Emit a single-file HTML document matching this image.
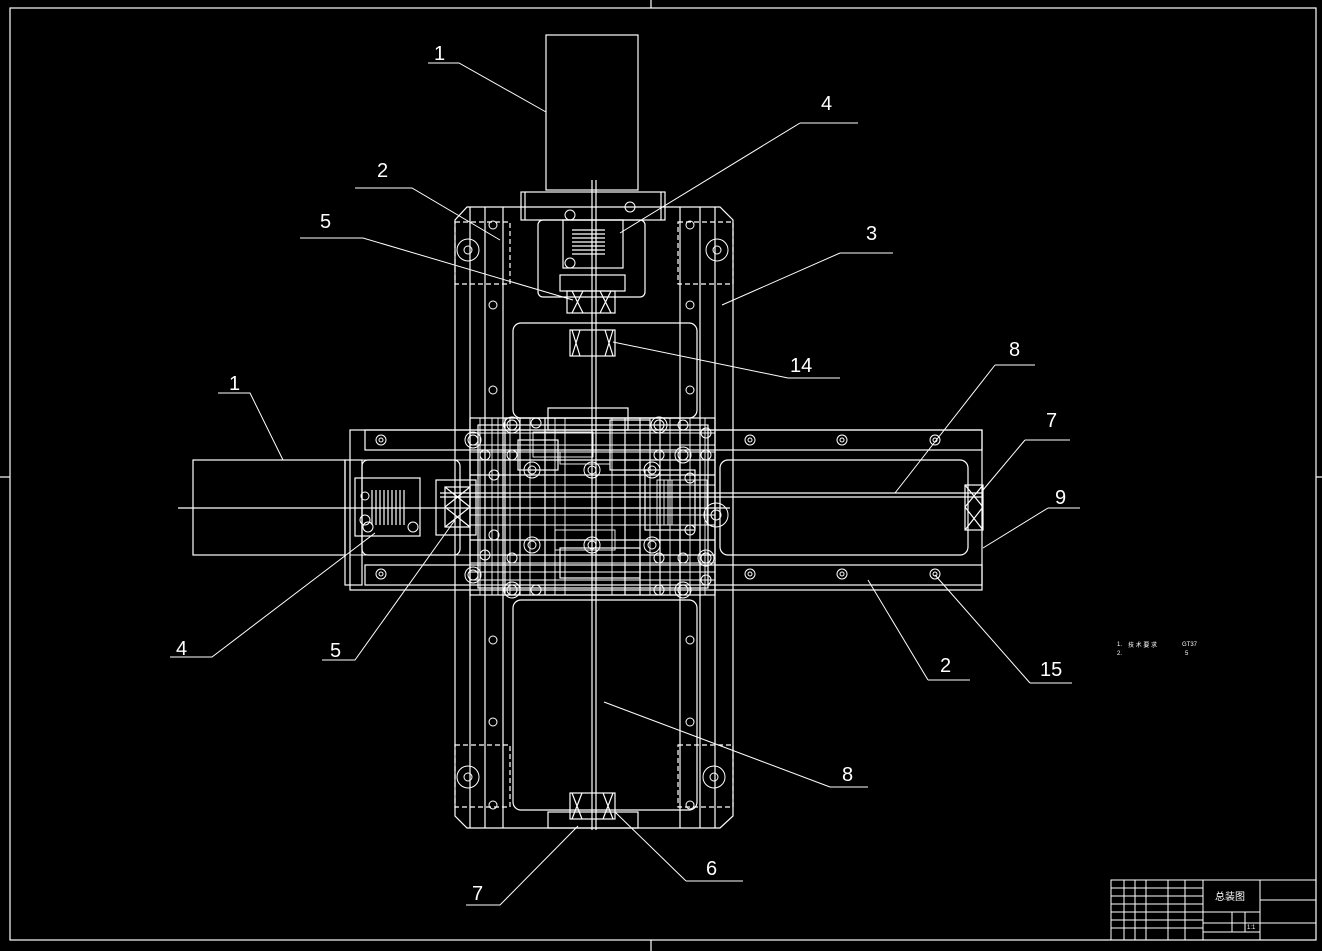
<!DOCTYPE html>
<html><head><meta charset="utf-8"><style>
html,body{margin:0;padding:0;background:#000;}
svg{display:block}
text{font-family:"Liberation Sans",sans-serif;fill:#fff;}
</style></head><body>
<svg width="1322" height="951" viewBox="0 0 1322 951" xmlns="http://www.w3.org/2000/svg">
<rect width="1322" height="951" fill="#000"/>
<g stroke="#fff" stroke-width="1.2" fill="none">
<rect x="10" y="8" width="1306" height="932"/>
<line x1="651" y1="0" x2="651" y2="8"/><line x1="651" y1="940" x2="651" y2="951"/>
<line x1="0" y1="477" x2="10" y2="477"/><line x1="1316" y1="477" x2="1322" y2="477"/>

<rect x="546" y="35" width="92" height="155"/>
<rect x="521" y="192" width="144" height="28"/>
<line x1="525" y1="192" x2="525" y2="220"/><line x1="661" y1="192" x2="661" y2="220"/>
<line x1="592" y1="180" x2="592" y2="830"/><line x1="596" y1="180" x2="596" y2="830"/>
<rect x="538" y="220" width="107" height="77" rx="5"/>
<rect x="563" y="220" width="60" height="48"/>
<rect x="560" y="275" width="65" height="16"/>
<line x1="572" y1="230" x2="605" y2="230"/><line x1="572" y1="234" x2="605" y2="234"/><line x1="572" y1="238" x2="605" y2="238"/><line x1="572" y1="242" x2="605" y2="242"/><line x1="572" y1="246" x2="605" y2="246"/><line x1="572" y1="250" x2="605" y2="250"/><line x1="572" y1="254" x2="605" y2="254"/>
<rect x="567" y="291" width="48" height="22"/>
<path d="M572 291 L583 313 M583 291 L572 313 M600 291 L611 313 M611 291 L600 313"/>

<path d="M467 207 L720 207 L733 220 L733 816 L720 828 L467 828 L455 816 L455 220 Z"/>
<line x1="485" y1="207" x2="485" y2="828"/><line x1="503" y1="207" x2="503" y2="828"/>
<line x1="680" y1="207" x2="680" y2="828"/><line x1="700" y1="207" x2="700" y2="828"/>
<line x1="715" y1="207" x2="715" y2="828"/><line x1="470" y1="207" x2="470" y2="828"/>
<rect x="455" y="222" width="55" height="62" stroke-dasharray="5,3"/>
<rect x="678" y="222" width="55" height="62" stroke-dasharray="5,3"/>
<rect x="455" y="745" width="55" height="62" stroke-dasharray="5,3"/>
<rect x="678" y="745" width="55" height="62" stroke-dasharray="5,3"/>
<rect x="513" y="323" width="184" height="95" rx="8"/>
<rect x="513" y="600" width="184" height="210" rx="8"/>
<rect x="570" y="330" width="45" height="26"/>
<path d="M572 330 L580 356 M580 330 L572 356 M605 330 L613 356 M613 330 L605 356"/>
<rect x="570" y="793" width="45" height="26"/>
<rect x="548" y="812" width="90" height="16"/>
<path d="M572 793 L582 819 M582 793 L572 819 M603 793 L613 819 M613 793 L603 819"/>

<rect x="350" y="430" width="632" height="160"/>
<rect x="365" y="430" width="617" height="20"/>
<rect x="365" y="565" width="617" height="20"/>
<rect x="720" y="460" width="248" height="95" rx="8"/>
<line x1="440" y1="493" x2="982" y2="493"/><line x1="440" y1="497" x2="982" y2="497"/>
<line x1="178" y1="508" x2="730" y2="508"/>
<rect x="965" y="485" width="18" height="45"/>
<path d="M965 485 L983 507 M983 485 L965 507 M965 507 L983 530 M983 507 L965 530"/>

<rect x="193" y="460" width="152" height="95"/>
<rect x="345" y="460" width="17" height="125"/>
<rect x="355" y="478" width="65" height="58"/>
<rect x="362" y="460" width="98" height="95" rx="6"/>
<line x1="372" y1="490" x2="372" y2="525"/><line x1="376" y1="490" x2="376" y2="525"/><line x1="380" y1="490" x2="380" y2="525"/><line x1="384" y1="490" x2="384" y2="525"/><line x1="388" y1="490" x2="388" y2="525"/><line x1="392" y1="490" x2="392" y2="525"/><line x1="396" y1="490" x2="396" y2="525"/><line x1="400" y1="490" x2="400" y2="525"/><line x1="404" y1="490" x2="404" y2="525"/>
<rect x="445" y="487" width="25" height="40"/>
<path d="M445 487 L470 507 M470 487 L445 507 M445 507 L470 527 M470 507 L445 527"/>
<rect x="436" y="480" width="40" height="55"/>

<rect x="470" y="418" width="245" height="177"/>
<rect x="478" y="425" width="230" height="163"/>
<rect x="505" y="418" width="175" height="177"/>
<rect x="548" y="408" width="80" height="22"/>
<rect x="560" y="548" width="80" height="30"/>
<line x1="470" y1="460" x2="715" y2="460"/><line x1="470" y1="555" x2="715" y2="555"/>
<line x1="470" y1="475" x2="715" y2="475"/><line x1="470" y1="540" x2="715" y2="540"/>
<line x1="520" y1="418" x2="520" y2="595"/><line x1="545" y1="418" x2="545" y2="595"/>
<line x1="625" y1="418" x2="625" y2="595"/><line x1="640" y1="418" x2="640" y2="595"/>
<line x1="660" y1="418" x2="660" y2="595"/>
<rect x="610" y="420" width="40" height="50"/><rect x="518" y="440" width="40" height="30"/>
<rect x="645" y="470" width="50" height="60"/>
</g>
<!-- extra density in carriage -->
<g stroke="#fff" stroke-width="0.9" fill="none">
<line x1="480" y1="418" x2="480" y2="595"/><line x1="492" y1="418" x2="492" y2="595"/><line x1="498" y1="418" x2="498" y2="595"/>
<line x1="510" y1="418" x2="510" y2="595"/><line x1="530" y1="418" x2="530" y2="595"/><line x1="555" y1="418" x2="555" y2="595"/>
<line x1="565" y1="418" x2="565" y2="595"/><line x1="612" y1="418" x2="612" y2="595"/><line x1="650" y1="418" x2="650" y2="595"/>
<line x1="670" y1="418" x2="670" y2="595"/><line x1="690" y1="418" x2="690" y2="595"/><line x1="705" y1="418" x2="705" y2="595"/>
<line x1="470" y1="433" x2="715" y2="433"/><line x1="470" y1="445" x2="715" y2="445"/><line x1="470" y1="452" x2="715" y2="452"/>
<line x1="470" y1="485" x2="715" y2="485"/><line x1="470" y1="515" x2="715" y2="515"/><line x1="470" y1="525" x2="715" y2="525"/>
<line x1="470" y1="563" x2="715" y2="563"/><line x1="470" y1="572" x2="715" y2="572"/><line x1="470" y1="580" x2="715" y2="580"/>
<rect x="533" y="432" width="60" height="25"/><rect x="560" y="452" width="50" height="12"/>
<rect x="657" y="480" width="50" height="45"/><rect x="555" y="530" width="60" height="20"/>
<line x1="660" y1="480" x2="660" y2="525"/><line x1="664" y1="480" x2="664" y2="525"/><line x1="668" y1="480" x2="668" y2="525"/><line x1="672" y1="480" x2="672" y2="525"/>
<line x1="350" y1="460" x2="470" y2="460"/><line x1="350" y1="555" x2="470" y2="555"/>
</g>

<g stroke="#fff" stroke-width="1" fill="none">
<circle cx="468" cy="250" r="11"/><circle cx="468" cy="250" r="4"/>
<circle cx="717" cy="250" r="11"/><circle cx="717" cy="250" r="4"/>
<circle cx="468" cy="777" r="11"/><circle cx="468" cy="777" r="4"/>
<circle cx="714" cy="777" r="11"/><circle cx="714" cy="777" r="4"/>
<circle cx="716" cy="515" r="12"/><circle cx="716" cy="515" r="5"/>
<circle cx="532" cy="470" r="8"/><circle cx="592" cy="470" r="8"/><circle cx="652" cy="470" r="8"/>
<circle cx="532" cy="545" r="8"/><circle cx="592" cy="545" r="8"/><circle cx="652" cy="545" r="8"/>
<circle cx="532" cy="470" r="4"/><circle cx="592" cy="470" r="4"/><circle cx="652" cy="470" r="4"/>
<circle cx="532" cy="545" r="4"/><circle cx="592" cy="545" r="4"/><circle cx="652" cy="545" r="4"/>
<circle cx="570" cy="215" r="5"/><circle cx="630" cy="207" r="5"/><circle cx="570" cy="263" r="5"/>
</g>
<g stroke="#fff" stroke-width="1" fill="none">
<circle cx="493" cy="225" r="4"/><circle cx="493" cy="305" r="4"/><circle cx="493" cy="390" r="4"/><circle cx="493" cy="640" r="4"/><circle cx="493" cy="722" r="4"/><circle cx="493" cy="805" r="4"/>
<circle cx="690" cy="225" r="4"/><circle cx="690" cy="305" r="4"/><circle cx="690" cy="390" r="4"/><circle cx="690" cy="640" r="4"/><circle cx="690" cy="722" r="4"/><circle cx="690" cy="805" r="4"/>
<circle cx="381" cy="440" r="5"/><circle cx="381" cy="574" r="5"/><circle cx="750" cy="440" r="5"/><circle cx="842" cy="440" r="5"/><circle cx="935" cy="440" r="5"/>
<circle cx="750" cy="574" r="5"/><circle cx="842" cy="574" r="5"/><circle cx="935" cy="574" r="5"/>
<circle cx="381" cy="440" r="2"/><circle cx="381" cy="574" r="2"/><circle cx="750" cy="440" r="2"/><circle cx="842" cy="440" r="2"/><circle cx="935" cy="440" r="2"/>
<circle cx="750" cy="574" r="2"/><circle cx="842" cy="574" r="2"/><circle cx="935" cy="574" r="2"/>
<circle cx="473" cy="440" r="5"/><circle cx="485" cy="455" r="5"/><circle cx="512" cy="425" r="5"/><circle cx="512" cy="455" r="5"/><circle cx="536" cy="423" r="5"/>
<circle cx="659" cy="425" r="5"/><circle cx="683" cy="425" r="5"/><circle cx="706" cy="433" r="5"/><circle cx="706" cy="455" r="5"/><circle cx="683" cy="455" r="5"/><circle cx="659" cy="455" r="5"/>
<circle cx="473" cy="575" r="5"/><circle cx="485" cy="555" r="5"/><circle cx="512" cy="590" r="5"/><circle cx="536" cy="590" r="5"/><circle cx="512" cy="558" r="5"/>
<circle cx="659" cy="590" r="5"/><circle cx="683" cy="590" r="5"/><circle cx="706" cy="580" r="5"/><circle cx="706" cy="558" r="5"/><circle cx="683" cy="558" r="5"/><circle cx="659" cy="558" r="5"/>
<circle cx="494" cy="475" r="5"/><circle cx="690" cy="478" r="5"/><circle cx="690" cy="530" r="5"/><circle cx="494" cy="535" r="5"/>
<circle cx="473" cy="440" r="8"/><circle cx="512" cy="425" r="8"/><circle cx="659" cy="425" r="8"/><circle cx="683" cy="455" r="8"/><circle cx="512" cy="590" r="8"/><circle cx="683" cy="590" r="8"/><circle cx="473" cy="575" r="8"/><circle cx="706" cy="558" r="8"/>
<circle cx="365" cy="520" r="5"/><circle cx="365" cy="496" r="4"/><circle cx="413" cy="527" r="5"/><circle cx="368" cy="527" r="5"/>
</g>

<g stroke="#fff" stroke-width="1" fill="none">
<path d="M428 63 L459 63 L546 112"/>
<path d="M800 123 L858 123 M800 123 L620 233"/>
<path d="M355 188 L412 188 L500 240"/>
<path d="M300 238 L363 238 L573 300"/>
<path d="M840 253 L893 253 M840 253 L722 305"/>
<path d="M788 378 L840 378 M788 378 L613 342"/>
<path d="M995 365 L1035 365 M995 365 L895 493"/>
<path d="M1025 440 L1070 440 M1025 440 L983 490"/>
<path d="M1048 508 L1080 508 M1048 508 L983 548"/>
<path d="M218 393 L250 393 L283 460"/>
<path d="M170 657 L212 657 L375 533"/>
<path d="M322 660 L355 660 L455 520"/>
<path d="M928 680 L970 680 M928 680 L868 580"/>
<path d="M1030 683 L1072 683 M1030 683 L935 575"/>
<path d="M830 787 L868 787 M830 787 L604 702"/>
<path d="M686 881 L743 881 M686 881 L615 812"/>
<path d="M466 905 L500 905 L578 826"/>
</g>
<g font-size="20">
<text x="434" y="60">1</text><text x="821" y="110">4</text><text x="377" y="177">2</text>
<text x="320" y="228">5</text><text x="866" y="240">3</text><text x="790" y="372">14</text>
<text x="1009" y="356">8</text><text x="1046" y="427">7</text><text x="1055" y="504">9</text>
<text x="229" y="390">1</text><text x="176" y="655">4</text><text x="330" y="657">5</text>
<text x="940" y="672">2</text><text x="1040" y="676">15</text><text x="842" y="781">8</text>
<text x="706" y="875">6</text><text x="472" y="900">7</text>
</g>
<g font-size="6" fill="#fff"><text x="1128" y="647">技 术 要 求</text><text x="1117" y="646">1.</text><text x="1117" y="655">2.</text><text x="1182" y="646">GT37</text><text x="1185" y="655">5</text></g>

<g stroke="#fff" stroke-width="1" fill="none">
<rect x="1111" y="880" width="205" height="60"/>
<line x1="1203" y1="880" x2="1203" y2="940"/><line x1="1260" y1="880" x2="1260" y2="940"/>
<line x1="1111" y1="888" x2="1203" y2="888"/><line x1="1111" y1="896" x2="1203" y2="896"/><line x1="1111" y1="904" x2="1203" y2="904"/><line x1="1111" y1="912" x2="1260" y2="912"/><line x1="1111" y1="920" x2="1203" y2="920"/><line x1="1111" y1="928" x2="1203" y2="928"/>
<line x1="1203" y1="923" x2="1260" y2="923"/><line x1="1203" y1="932" x2="1260" y2="932"/>
<line x1="1260" y1="900" x2="1316" y2="900"/><line x1="1260" y1="923" x2="1316" y2="923"/>
<line x1="1124" y1="880" x2="1124" y2="940"/><line x1="1135" y1="880" x2="1135" y2="940"/><line x1="1146" y1="880" x2="1146" y2="940"/><line x1="1168" y1="880" x2="1168" y2="940"/><line x1="1185" y1="880" x2="1185" y2="940"/>
<line x1="1232" y1="912" x2="1232" y2="932"/><line x1="1245" y1="912" x2="1245" y2="932"/>
</g>
<text x="1215" y="900" font-size="10" font-family="'Noto Sans CJK SC',sans-serif">总装图</text>
<text x="1247" y="929" font-size="6">1:1</text>
</svg>
</body></html>
